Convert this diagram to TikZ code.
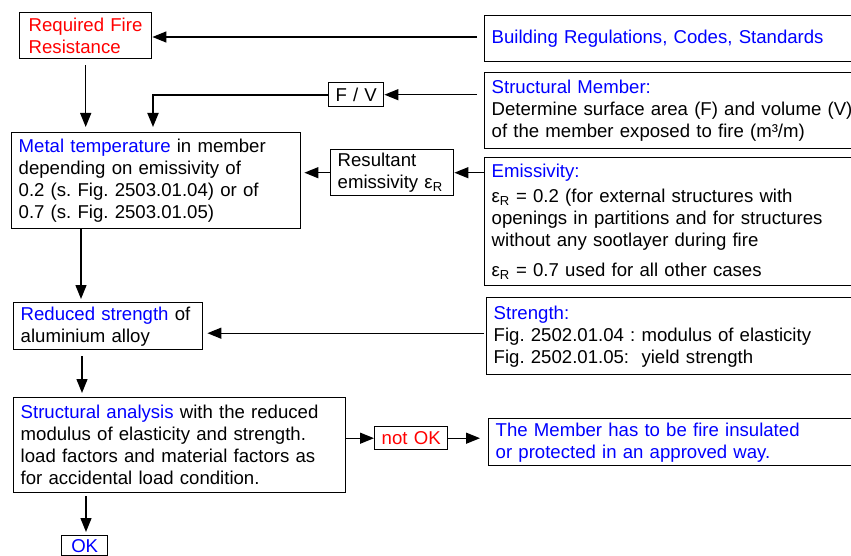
\documentclass[tikz,border=0pt]{standalone}
\usepackage{fontspec}
\setmainfont{Liberation Sans}
\usepackage{tikz}
\usetikzlibrary{arrows.meta}
\frenchspacing

\begin{document}
\begin{tikzpicture}[x=1pt, y=-1pt,
    box/.style={draw, line width=1.4pt, anchor=north west, align=left, inner xsep=7pt, inner ysep=0pt,
        font=\fontsize{18.6}{22}\selectfont},
    arr/.style={line width=1.3pt, -{Triangle[length=14pt, width=11pt]}}]
    \clip (0,0) rectangle (851,556);
    % left column
    \node[box, minimum width=132pt, minimum height=46pt, text width=114pt, inner xsep=9pt, text=red] (req) at (19,12) {Required Fire\\Resistance};
    \node[box, minimum width=289pt, minimum height=96pt, text width=275pt] (metal) at (11,132) {\textcolor{blue}{Metal temperature} in member\\depending on emissivity of\\0.2 (s. Fig. 2503.01.04) or of\\0.7 (s. Fig. 2503.01.05)};
    \node[box, minimum width=189pt, minimum height=47pt, text width=175pt] (reduced) at (13,302) {\textcolor{blue}{Reduced strength} of\\aluminium alloy};
    \node[box, minimum width=332pt, minimum height=95pt, text width=318pt] (sa) at (13,397) {\textcolor{blue}{Structural analysis} with the reduced\\modulus of elasticity and strength.\\load factors and material factors as\\for accidental load condition.};
    \node[box, minimum width=46pt, minimum height=20pt, text width=40pt, inner xsep=3pt, align=center, text=blue] (ok) at (61,535) {OK};
    % middle
    \node[box, minimum width=55pt, minimum height=24pt, text width=49pt, inner xsep=3pt, align=center] (fv) at (328,82) {F / V};
    \node[box, minimum width=123pt, minimum height=46pt, text width=109pt] (res) at (330,149) {Resultant\\emissivity ε\textsubscript{R}};
    \node[box, minimum width=73pt, minimum height=23pt, text width=67pt, inner xsep=3pt, align=center, text=red] (notok) at (374,426) {not OK};
    % right column
    \node[box, minimum width=380pt, minimum height=46pt, text width=366pt, text=blue] (build) at (484,15) {Building Regulations, Codes, Standards};
    \node[box, minimum width=380pt, minimum height=76pt, text width=366pt] (struct) at (484,72) {\textcolor{blue}{Structural Member:}\\Determine surface area (F) and volume (V)\\of the member exposed to fire (m³/m)};
    \node[box, minimum width=380pt, minimum height=128pt, text width=366pt] (emis) at (484,157) {\textcolor{blue}{Emissivity:}\\[3pt]ε\textsubscript{R} = 0.2 (for external structures with\\openings in partitions and for structures\\without any sootlayer during fire\\[8pt]ε\textsubscript{R} = 0.7 used for all other cases};
    \node[box, minimum width=380pt, minimum height=77pt, text width=366pt] (strength) at (486,297) {\textcolor{blue}{Strength:}\\Fig. 2502.01.04 : modulus of elasticity\\Fig. 2502.01.05:\ \ yield strength};
    \node[box, minimum width=380pt, minimum height=47pt, text width=366pt, text=blue] (member) at (488,418) {The Member has to be fire insulated\\or protected in an approved way.};

    \draw[arr, shorten <=7pt] (build.west |- 0,37) -- (req.east |- 0,37);
    \draw[arr, shorten <=7pt] (fv.east -| struct.west) -- (fv.east);
    \draw[arr, line width=1.8pt, shorten >=5pt] (fv.west) -| ([xshift=142pt]metal.north west);
    \draw[arr, shorten <=6pt, shorten >=5pt] (req.south) -- (req.south |- metal.north);
    \draw[arr, shorten >=3pt] (res.west) -- (res.west -| metal.east);
    \draw[arr] (res.east -| emis.west) -- (res.east);
    \draw[arr, shorten >=3pt] ([xshift=70pt]metal.south west) -- ([xshift=70pt]metal.south west |- reduced.north);
    \draw[arr, shorten <=2pt, shorten >=4pt] ([yshift=-7pt]reduced.east -| strength.west) -- ([yshift=-7pt]reduced.east);
    \draw[arr, shorten <=6pt, shorten >=4pt] ([xshift=69pt]reduced.south west) -- ([xshift=69pt]sa.north west);
    \draw[arr] (notok.west -| sa.east) -- (notok.west);
    \draw[arr, shorten >=8pt] (notok.east) -- (notok.east -| member.west);
    \draw[arr, shorten <=3pt, shorten >=3pt] ([xshift=73pt]sa.south west) -- ([xshift=73pt]sa.south west |- ok.north);
\end{tikzpicture}
\end{document}
